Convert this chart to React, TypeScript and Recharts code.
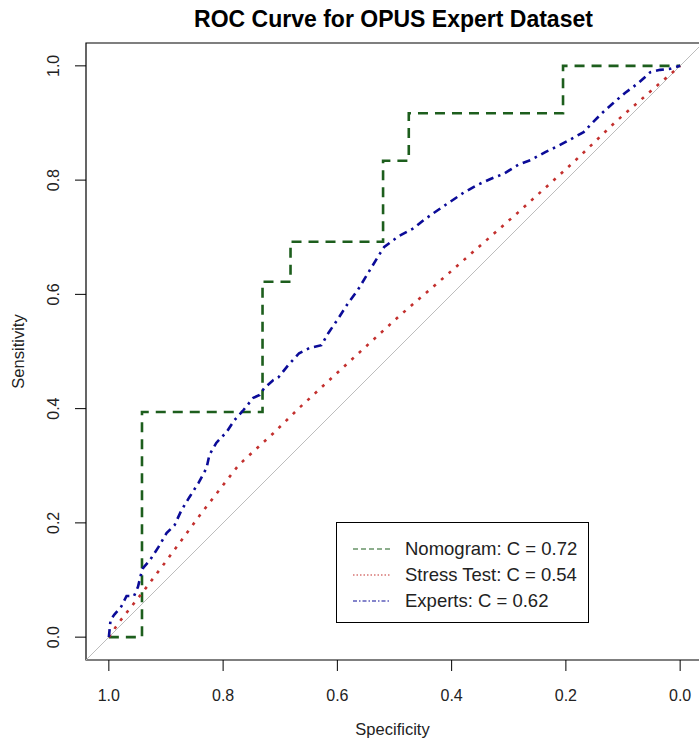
import React from 'react';
import { LineChart, Line, XAxis, YAxis, ReferenceLine, ReferenceArea } from 'recharts';

// ROC curves (x = specificity, y = sensitivity)
const nomogramSpec = [1.0, 0.942, 0.942, 0.731, 0.731, 0.682, 0.682, 0.52, 0.52, 0.475, 0.475, 0.205, 0.205, 0.0];
const nomogramSens = [0.0, 0.0, 0.394, 0.394, 0.622, 0.622, 0.692, 0.692, 0.834, 0.834, 0.917, 0.917, 1.0, 1.0];

const stressSpec = [1.0, 0.983, 0.942, 0.902, 0.838, 0.773, 0.712, 0.667, 0.576, 0.494, 0.405, 0.283, 0.188, 0.113, 0.035, 0.0];
const stressSens = [0.0, 0.025, 0.077, 0.13, 0.217, 0.301, 0.357, 0.401, 0.485, 0.56, 0.637, 0.744, 0.83, 0.902, 0.97, 1.0];

const expertSpec = [
  1.0, 0.997, 0.99, 0.978, 0.969, 0.956, 0.949, 0.944, 0.94, 0.928, 0.913, 0.899, 0.885, 0.873, 0.859,
  0.843, 0.829, 0.824, 0.812, 0.794, 0.78, 0.764, 0.747, 0.736, 0.728, 0.712, 0.703, 0.686, 0.667, 0.649,
  0.628, 0.616, 0.597, 0.581, 0.564, 0.541, 0.527, 0.518, 0.494, 0.466, 0.449, 0.419, 0.379, 0.354, 0.332,
  0.309, 0.283, 0.262, 0.236, 0.213, 0.187, 0.169, 0.152, 0.136, 0.117, 0.096, 0.073, 0.052, 0.035, 0.017, 0.0,
];
const expertSens = [
  0.0, 0.03, 0.04, 0.054, 0.072, 0.072, 0.088, 0.109, 0.121, 0.135, 0.158, 0.182, 0.196, 0.222, 0.245,
  0.27, 0.296, 0.319, 0.34, 0.359, 0.38, 0.398, 0.419, 0.424, 0.436, 0.45, 0.455, 0.476, 0.497, 0.506,
  0.511, 0.532, 0.56, 0.585, 0.608, 0.646, 0.669, 0.683, 0.701, 0.716, 0.73, 0.751, 0.778, 0.792, 0.802,
  0.811, 0.827, 0.835, 0.849, 0.86, 0.874, 0.884, 0.902, 0.918, 0.935, 0.953, 0.97, 0.989, 0.993, 0.995, 1.0,
];

const legendLabels = ['Nomogram: C = 0.72', 'Stress Test: C = 0.54', 'Experts: C = 0.62'];
const axisTicks = [1.0, 0.8, 0.6, 0.4, 0.2, 0.0];
const domain: [number, number] = [-0.04, 1.04];

const toPoints = (spec: number[], sens: number[]) => spec.map((s, i) => ({ spec: s, sens: sens[i] }));

const FONT = '"Liberation Sans", Arial, sans-serif';
const GREEN = '#1d5e1d';
const RED = '#c3302e';
const BLUE = '#0b0b98';

const YTick = (props: any) => {
  const { x, y, payload } = props;
  return (
    <text
      x={x}
      y={y}
      transform={`rotate(-90, ${x}, ${y})`}
      textAnchor="middle"
      fill="#222"
      fontSize={16}
      fontFamily={FONT}
    >
      {payload.value.toFixed(1)}
    </text>
  );
};

export default function App() {
  const nomogram = toPoints(nomogramSpec, nomogramSens);
  const stress = toPoints(stressSpec, stressSens);
  const experts = toPoints(expertSpec, expertSens);
  const series = [
    { name: legendLabels[0], data: nomogram, color: GREEN, dash: '10 7', legendDash: '5 3' },
    { name: legendLabels[1], data: stress, color: RED, dash: '3 7', legendDash: '1.5 2' },
    { name: legendLabels[2], data: experts, color: BLUE, dash: '8 5 2.5 5', legendDash: '4 2 1.5 2' },
  ];

  return (
    <div
      style={{
        position: 'fixed',
        left: 0,
        top: 0,
        width: 699,
        height: 740,
        overflow: 'hidden',
        background: '#fff',
        fontFamily: FONT,
      }}
    >
      <div
        style={{
          position: 'absolute',
          left: 0,
          top: 6,
          width: 787,
          textAlign: 'center',
          fontWeight: 'bold',
          fontSize: 23,
          color: '#000',
        }}
      >
        ROC Curve for OPUS Expert Dataset
      </div>
      <LineChart width={720} height={740} margin={{ top: 43, right: 17, bottom: 0, left: 0 }}>
        <XAxis
          type="number"
          dataKey="spec"
          domain={domain}
          reversed
          allowDataOverflow
          ticks={axisTicks}
          tickFormatter={(v: number) => v.toFixed(1)}
          axisLine={false}
          tickLine={{ stroke: '#000' }}
          tickSize={11}
          tickMargin={19}
          height={80}
          tick={{ fontSize: 16, fill: '#222', fontFamily: FONT }}
          label={{
            content: (p: any) => (
              <text
                x={p.viewBox.x + p.viewBox.width / 2 - 2}
                y={p.viewBox.y + 69}
                textAnchor="middle"
                dominantBaseline="central"
                fontSize={16.5}
                fill="#222"
                fontFamily={FONT}
              >
                Specificity
              </text>
            ),
          }}
        />
        <YAxis
          type="number"
          dataKey="sens"
          domain={domain}
          allowDataOverflow
          ticks={axisTicks}
          axisLine={false}
          tickLine={{ stroke: '#000' }}
          tickSize={11}
          tickMargin={16}
          width={86}
          tick={<YTick />}
          label={{
            content: (p: any) => {
              const cx = 18;
              const cy = p.viewBox.y + p.viewBox.height / 2;
              return (
                <text
                  x={cx}
                  y={cy}
                  transform={`rotate(-90, ${cx}, ${cy})`}
                  textAnchor="middle"
                  dominantBaseline="central"
                  fontSize={16.5}
                  fill="#222"
                  fontFamily={FONT}
                >
                  Sensitivity
                </text>
              );
            },
          }}
        />
        <ReferenceArea
          x1={domain[0]}
          x2={domain[1]}
          y1={domain[0]}
          y2={domain[1]}
          fill="none"
          stroke="#000"
          strokeWidth={1.2}
        />
        <ReferenceLine
          segment={[
            { x: domain[1], y: domain[0] },
            { x: domain[0], y: domain[1] },
          ]}
          stroke="#bdbdbd"
          strokeWidth={1}
        />
        {series.map((s) => (
          <Line
            key={s.name}
            data={s.data}
            dataKey="sens"
            type="linear"
            stroke={s.color}
            strokeWidth={2.6}
            strokeDasharray={s.dash}
            dot={false}
            activeDot={false}
            isAnimationActive={false}
          />
        ))}
      </LineChart>
      <div
        style={{
          position: 'absolute',
          left: 336,
          top: 522,
          width: 251,
          height: 99,
          border: '1px solid #000',
          background: '#fff',
          fontSize: 18.5,
          color: '#222',
        }}
      >
        {series.map((s, i) => (
          <div
            key={s.name}
            style={{ position: 'absolute', left: 0, top: 15 + i * 26, height: 22, display: 'flex', alignItems: 'center' }}
          >
            <svg width={68} height={22} style={{ display: 'block' }}>
              <line x1={16} x2={54} y1={11} y2={11} stroke={s.color} strokeWidth={1.2} strokeDasharray={s.legendDash} />
            </svg>
            <span style={{ whiteSpace: 'nowrap' }}>{s.name}</span>
          </div>
        ))}
      </div>
    </div>
  );
}
